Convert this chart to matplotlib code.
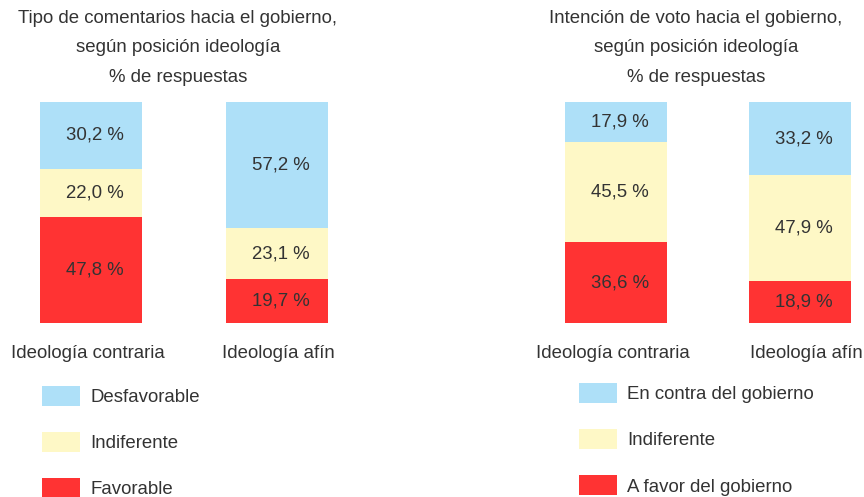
import matplotlib
matplotlib.use("Agg")
import matplotlib.pyplot as plt
from matplotlib.patches import Patch

plt.rcParams['font.family'] = ['Liberation Sans', 'DejaVu Sans']

categories = ["Ideología contraria", "Ideología afín"]

left_title = "Tipo de comentarios hacia el gobierno,\nsegún posición ideología\n% de respuestas"
left_series = ["Favorable", "Indiferente", "Desfavorable"]
left_values = {
    "Favorable": [47.8, 19.7],
    "Indiferente": [22.0, 23.1],
    "Desfavorable": [30.2, 57.2],
}

right_title = "Intención de voto hacia el gobierno,\nsegún posición ideología\n% de respuestas"
right_series = ["A favor del gobierno", "Indiferente", "En contra del gobierno"]
right_values = {
    "A favor del gobierno": [36.6, 18.9],
    "Indiferente": [45.5, 47.9],
    "En contra del gobierno": [17.9, 33.2],
}

colors = ["#FF3333", "#FEF8C6", "#AEE0F8"]
text_color = "#333333"
FS = 13.4

W, H = 864, 497
fig = plt.figure(figsize=(W / 100, H / 100), dpi=100)

def fmt(v):
    return f"{v:.1f}".replace(".", ",") + " %"

def panel(x0px, centers_px, series, values, title, title_cx, legend_x, legend_y, label_cx):
    ax = fig.add_axes([x0px / W, 0, 432 / W, 1])
    spacing = centers_px[1] - centers_px[0]
    c0 = centers_px[0] - x0px
    ax.set_xlim(-c0 / spacing, (432 - c0) / spacing)
    ppu = 2.21
    ybot = 323
    ax.set_ylim((ybot - H) / ppu, ybot / ppu)
    ax.axis("off")
    x = [0, 1]
    bottoms = [0, 0]
    handles = []
    for s, col in zip(series, colors):
        vals = values[s]
        ax.bar(x, vals, bottom=bottoms, width=102 / spacing, color=col,
               edgecolor="none", label=s)
        for xi, v, b in zip(x, vals, bottoms):
            ax.text(xi + 0.02, b + v / 2, fmt(v), ha="center", va="center",
                    fontsize=FS, color=text_color)
        bottoms = [b + v for b, v in zip(bottoms, vals)]
        handles.append(Patch(facecolor=col, edgecolor="none", label=s))
    for cx, cat in zip(label_cx, categories):
        ax.text(cx / W, 1 - 353 / H, cat, transform=fig.transFigure,
                ha="center", va="center", fontsize=FS, color=text_color)
    fig.text(title_cx / W, 1 - 10 / H, title, ha="center", va="top",
             fontsize=FS, color=text_color, linespacing=1.95)
    leg = ax.legend(handles=handles[::-1], loc="upper left",
                    bbox_to_anchor=(legend_x / W, 1 - legend_y / H),
                    bbox_transform=fig.transFigure, frameon=False,
                    fontsize=FS, handlelength=2.05, handleheight=1.3,
                    labelspacing=1.38, borderpad=0, borderaxespad=0,
                    handletextpad=0.55)
    for t in leg.get_texts():
        t.set_color(text_color)
    return ax

panel(0, [91, 277], left_series, left_values, left_title, 178, 42, 386, [88, 278])
panel(432, [616, 800], right_series, right_values, right_title, 696, 579, 383, [613, 806])

fig.savefig("out.png", dpi=100)
